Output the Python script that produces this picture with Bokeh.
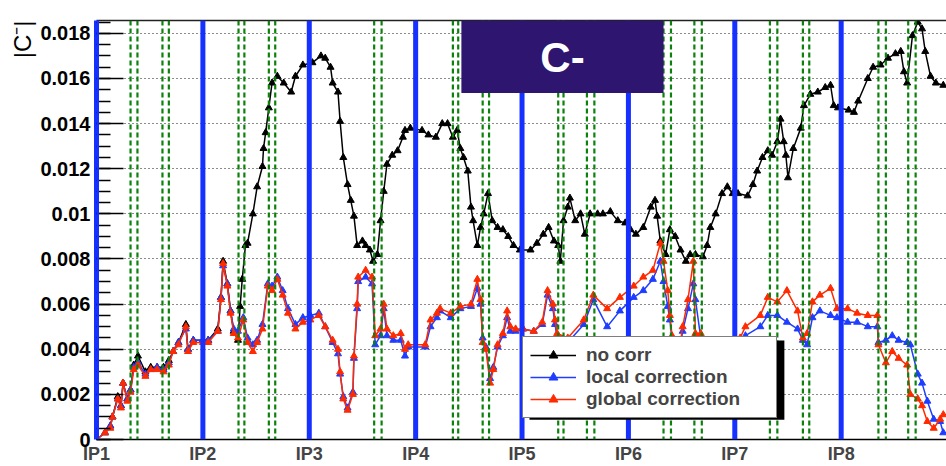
from bokeh.plotting import figure
from bokeh.models import (Span, FixedTicker, Legend, LegendItem, BoxAnnotation,
                          Label, Title, LinearAxis, Range1d)
from bokeh.embed import file_html
from bokeh.resources import INLINE

# ---------------- data ----------------
ip_pos = [0, 1, 2, 3, 4, 5, 6, 7]
ip_labels = ["IP1", "IP2", "IP3", "IP4", "IP5", "IP6", "IP7", "IP8"]

# dashed green markers (octant units)
green_pos = [0.32, 0.385, 0.62, 0.68,
             1.335, 1.39, 1.62, 1.68,
             2.61, 2.68,
             3.35, 3.40, 3.63, 3.69,
             4.34, 4.39, 4.61, 4.68,
             5.33, 5.40, 5.62, 5.69,
             6.33, 6.40, 6.64, 6.70,
             7.35, 7.42, 7.63, 7.70]

y_ticks = [0.0, 0.002, 0.004, 0.006, 0.008, 0.01, 0.012, 0.014, 0.016, 0.018]
y_tick_labels = ["0", "0.002", "0.004", "0.006", "0.008", "0.01", "0.012", "0.014", "0.016", "0.018"]

pos_corr = [0.00,0.08,0.13,0.15,0.20,0.23,0.25,0.29,0.32,0.35,
            0.39,0.46,0.51,0.57,0.63,0.68,0.72,0.77,0.84,0.86,
            0.91,1.00,1.05,1.14,1.17,1.19,1.23,1.26,1.29,1.33,
            1.38,1.42,1.47,1.51,1.56,1.61,1.65,1.70,1.75,1.80,
            1.87,1.94,2.01,2.09,2.15,2.22,2.27,2.29,2.32,2.36,
            2.41,2.42,2.45,2.46,2.53,2.59,2.62,2.67,2.70,2.73,
            2.79,2.86,2.90,2.93,3.09,3.14,3.20,3.23,3.33,3.42,
            3.52,3.58,3.61,3.63,3.66,3.70,3.73,3.77,3.82,3.86,
            3.89,3.94,4.01,4.11,4.19,4.24,4.29,4.31,4.33,4.43,
            4.58,4.67,4.80,4.92,5.05,5.14,5.23,5.30,5.33,5.37,
            5.39,5.41,5.45,5.51,5.56,5.61,5.63,5.68,5.80,5.95,
            6.05,6.10,6.24,6.31,6.40,6.49,6.59,6.64,6.68,6.73,
            6.80,6.90,6.96,7.06,7.15,7.25,7.34,7.35,7.42,7.48,
            7.54,7.62,7.65,7.72,7.76,7.81,7.87,7.93,7.96]

global_corr = [0.0000,0.0003,0.0005,0.0010,0.0018,0.0014,0.0025,0.0017,0.0021,0.0031,
               0.0033,0.0028,0.0031,0.0031,0.0030,0.0033,0.0039,0.0042,0.0050,0.0039,
               0.0043,0.0043,0.0043,0.0048,0.0062,0.0078,0.0068,0.0056,0.0047,0.0045,
               0.0053,0.0043,0.0039,0.0043,0.0049,0.0068,0.0066,0.0071,0.0064,0.0056,
               0.0049,0.0052,0.0053,0.0055,0.0050,0.0044,0.0040,0.0030,0.0018,0.0013,
               0.0020,0.0037,0.0060,0.0072,0.0075,0.0072,0.0046,0.0049,0.0060,0.0049,
               0.0046,0.0047,0.0040,0.0042,0.0042,0.0053,0.0056,0.0058,0.0056,0.0059,
               0.0060,0.0071,0.0062,0.0043,0.0040,0.0025,0.0031,0.0042,0.0047,0.0057,
               0.0050,0.0049,0.0049,0.0048,0.0052,0.0066,0.0060,0.0053,0.0047,0.0045,
               0.0053,0.0064,0.0058,0.0063,0.0068,0.0072,0.0075,0.0087,0.0079,0.0066,
               0.0055,0.0046,0.0030,0.0050,0.0062,0.0079,0.0047,0.0047,0.0040,0.0042,
               0.0045,0.0050,0.0055,0.0063,0.0061,0.0066,0.0057,0.0045,0.0047,0.0061,
               0.0064,0.0067,0.0058,0.0058,0.0056,0.0055,0.0055,0.0042,0.0034,0.0039,
               0.0036,0.0033,0.0020,0.0018,0.0015,0.0008,0.0005,0.0009,0.0011]

local_corr = [0.0000,0.0003,0.0006,0.0010,0.0018,0.0015,0.0025,0.0018,0.0022,0.0032,
              0.0034,0.0029,0.0031,0.0032,0.0031,0.0034,0.0039,0.0043,0.0049,0.0040,
              0.0044,0.0044,0.0044,0.0048,0.0063,0.0077,0.0069,0.0057,0.0049,0.0048,
              0.0054,0.0045,0.0042,0.0044,0.0051,0.0069,0.0068,0.0072,0.0066,0.0058,
              0.0051,0.0054,0.0055,0.0056,0.0050,0.0043,0.0038,0.0029,0.0019,0.0014,
              0.0021,0.0036,0.0058,0.0070,0.0072,0.0069,0.0042,0.0046,0.0058,0.0046,
              0.0044,0.0044,0.0037,0.0041,0.0041,0.0050,0.0054,0.0057,0.0054,0.0058,
              0.0059,0.0067,0.0060,0.0045,0.0041,0.0027,0.0032,0.0041,0.0046,0.0054,
              0.0048,0.0048,0.0049,0.0048,0.0051,0.0064,0.0058,0.0051,0.0045,0.0043,
              0.0051,0.0062,0.0050,0.0057,0.0063,0.0066,0.0071,0.0079,0.0070,0.0059,
              0.0053,0.0044,0.0030,0.0048,0.0058,0.0069,0.0062,0.0045,0.0039,0.0041,
              0.0043,0.0046,0.0050,0.0055,0.0055,0.0052,0.0049,0.0044,0.0042,0.0054,
              0.0057,0.0055,0.0054,0.0052,0.0052,0.0050,0.0050,0.0043,0.0044,0.0046,
              0.0044,0.0043,0.0042,0.0029,0.0025,0.0017,0.0009,0.0008,0.0003]

pos_nocorr = [0.00,0.08,0.13,0.15,0.20,0.23,0.25,0.29,0.32,0.35,
              0.39,0.46,0.51,0.57,0.63,0.68,0.72,0.77,0.84,0.86,
              0.91,1.00,1.05,1.14,1.17,1.19,1.23,1.26,1.29,1.33,
              1.35,1.37,1.40,1.42,1.47,1.51,1.56,1.57,1.59,1.62,
              1.65,1.70,1.76,1.83,1.87,1.94,2.03,2.11,2.15,2.20,
              2.22,2.27,2.29,2.32,2.36,2.39,2.42,2.45,2.50,2.53,
              2.57,2.60,2.64,2.67,2.70,2.73,2.78,2.83,2.88,2.90,
              2.95,3.06,3.12,3.19,3.25,3.30,3.35,3.39,3.42,3.45,
              3.49,3.52,3.54,3.58,3.61,3.64,3.68,3.72,3.77,3.82,
              3.87,3.92,3.98,4.08,4.14,4.20,4.25,4.30,4.34,4.36,
              4.39,4.43,4.45,4.50,4.55,4.59,4.64,4.71,4.76,4.83,
              4.90,4.97,5.02,5.07,5.14,5.21,5.25,5.27,5.30,5.35,
              5.39,5.44,5.49,5.54,5.58,5.63,5.70,5.74,5.77,5.82,
              5.88,5.93,5.98,6.03,6.12,6.17,6.21,6.26,6.31,6.35,
              6.40,6.43,6.46,6.48,6.50,6.55,6.62,6.65,6.71,6.78,
              6.85,6.90,6.93,6.97,7.07,7.12,7.16,7.25,7.30,7.37,
              7.44,7.51,7.56,7.59,7.62,7.67,7.72,7.76,7.79,7.84,
              7.89,7.96]

no_corr = [0.0000,0.0003,0.0006,0.0010,0.0019,0.0015,0.0025,0.0018,0.0022,0.0033,
           0.0037,0.0030,0.0032,0.0032,0.0032,0.0035,0.0039,0.0043,0.0051,0.0040,
           0.0044,0.0044,0.0044,0.0049,0.0063,0.0079,0.0069,0.0057,0.0048,0.0044,
           0.0059,0.0071,0.0086,0.0087,0.0100,0.0112,0.0121,0.0129,0.0136,0.0147,
           0.0158,0.0161,0.0158,0.0154,0.0161,0.0166,0.0167,0.0170,0.0169,0.0165,
           0.0158,0.0154,0.0141,0.0125,0.0113,0.0106,0.0099,0.0086,0.0088,0.0086,
           0.0084,0.0079,0.0082,0.0097,0.0110,0.0122,0.0126,0.0128,0.0134,0.0137,
           0.0138,0.0137,0.0135,0.0134,0.0140,0.0140,0.0134,0.0137,0.0129,0.0125,
           0.0119,0.0103,0.0097,0.0086,0.0094,0.0100,0.0109,0.0097,0.0094,0.0093,
           0.0090,0.0086,0.0084,0.0084,0.0087,0.0091,0.0094,0.0088,0.0086,0.0079,
           0.0097,0.0103,0.0107,0.0097,0.0100,0.0091,0.0100,0.0100,0.0100,0.0101,
           0.0097,0.0096,0.0093,0.0091,0.0094,0.0103,0.0106,0.0099,0.0088,0.0082,
           0.0093,0.0090,0.0084,0.0079,0.0082,0.0082,0.0081,0.0086,0.0094,0.0100,
           0.0109,0.0112,0.0109,0.0109,0.0108,0.0113,0.0119,0.0125,0.0128,0.0126,
           0.0132,0.0142,0.0132,0.0126,0.0116,0.0129,0.0138,0.0148,0.0153,0.0154,
           0.0156,0.0157,0.0148,0.0147,0.0146,0.0145,0.0150,0.0160,0.0165,0.0166,
           0.0169,0.0171,0.0172,0.0163,0.0158,0.0179,0.0185,0.0182,0.0172,0.0161,
           0.0158,0.0157]

# ---------------- style ----------------
FONT = "Liberation Sans"
IP_BLUE = "#1530ff"
GREEN = "#0b820b"
C_BLACK = "#000000"
C_BLUE = "#1f3dff"
C_RED = "#ff2a00"

p = figure(width=946, height=466, output_backend="svg", toolbar_location=None,
           x_range=Range1d(0, 7.99), y_range=Range1d(0, 0.01857),
           min_border_left=96, min_border_right=0, min_border_top=20,
           min_border_bottom=23, title=None)
p.outline_line_color = None
p.background_fill_color = "white"
p.border_fill_color = "white"

# y axis
yax = p.yaxis[0]
yax.ticker = FixedTicker(ticks=y_ticks,
                         minor_ticks=[i * 0.0005 for i in range(38)])
yax.major_label_overrides = {t: l for t, l in zip(y_ticks, y_tick_labels)}
yax.major_label_text_font = FONT
yax.major_label_text_font_style = "bold"
yax.major_label_text_font_size = "20px"
yax.major_label_text_color = "black"
yax.major_label_standoff = 6
yax.major_tick_in = 27
yax.major_tick_out = 0
yax.minor_tick_in = 14
yax.minor_tick_out = 0
yax.major_tick_line_width = 1.5
yax.minor_tick_line_width = 1.5
yax.major_tick_line_color = "black"
yax.minor_tick_line_color = "black"
yax.axis_line_color = IP_BLUE
yax.axis_line_width = 5

# x axis
xax = p.xaxis[0]
xax.ticker = FixedTicker(ticks=ip_pos)
xax.major_label_overrides = {t: l for t, l in zip(ip_pos, ip_labels)}
xax.major_label_text_font = FONT
xax.major_label_text_font_style = "bold"
xax.major_label_text_font_size = "18px"
xax.major_label_standoff = 4
xax.major_tick_in = 0
xax.major_tick_out = 0
xax.minor_tick_in = 0
xax.minor_tick_out = 0
xax.axis_line_color = "black"
xax.axis_line_width = 1.5

# top frame line
top = LinearAxis(ticker=FixedTicker(ticks=[]), major_tick_in=0, major_tick_out=0,
                 minor_tick_in=0, minor_tick_out=0,
                 major_label_text_font_size="0px", axis_line_width=1.5,
                 axis_line_color="#222222")
p.add_layout(top, "above")

# y title
ytitle = Title(text="|C\u207b|", align="right", text_font=FONT, text_color="black",
               text_font_size="24px", text_font_style="normal", standoff=4)
p.add_layout(ytitle, "left")

# grid
p.xgrid.visible = False
p.ygrid.ticker = FixedTicker(ticks=y_ticks)
p.ygrid.grid_line_color = "black"
p.ygrid.grid_line_dash = "1 3"
p.ygrid.grid_line_width = 1
p.ygrid.grid_line_alpha = 0.9

# data
l0 = p.line(pos_nocorr, no_corr, line_color=C_BLACK, line_width=1.5)
s0 = p.scatter(pos_nocorr, no_corr, marker="triangle", size=7,
               fill_color=C_BLACK, line_color=C_BLACK)
l1 = p.line(pos_corr, local_corr, line_color=C_BLUE, line_width=1.5)
s1 = p.scatter(pos_corr, local_corr, marker="triangle", size=7,
               fill_color=C_BLUE, line_color=C_BLUE)
l2 = p.line(pos_corr, global_corr, line_color=C_RED, line_width=1.5)
s2 = p.scatter(pos_corr, global_corr, marker="triangle", size=7,
               fill_color=C_RED, line_color=C_RED)

# vertical markers
for g in green_pos:
    p.add_layout(Span(location=g, dimension="height", line_color=GREEN,
                      line_width=2.2, line_dash="5 3"))
for ip in ip_pos:
    p.add_layout(Span(location=ip, dimension="height", line_color=IP_BLUE,
                      line_width=5))

# title box "C-"
p.add_layout(BoxAnnotation(left=3.43, right=5.33, bottom=0.01536,
                           fill_color="#2d1570", fill_alpha=1, line_color=None))
p.add_layout(Label(x=4.38, y=0.01694, text="C-", text_color="white",
                   text_font=FONT, text_font_size="42px", text_font_style="bold",
                   text_align="center", text_baseline="middle"))

# legend shadow
p.add_layout(BoxAnnotation(left=4.07, right=6.466, bottom=0.00088, top=0.00439,
                           fill_color="black", fill_alpha=1, line_color=None))

legend = Legend(items=[LegendItem(label="no corr", renderers=[l0, s0]),
                       LegendItem(label="local correction", renderers=[l1, s1]),
                       LegendItem(label="global correction", renderers=[l2, s2])],
                location=(426, 21))
legend.border_line_color = "black"
legend.border_line_width = 1.5
legend.background_fill_color = "white"
legend.background_fill_alpha = 1
legend.label_text_font = FONT
legend.label_text_font_style = "bold"
legend.label_text_font_size = "19px"
legend.glyph_width = 46
legend.glyph_height = 22
legend.label_height = 22
legend.label_width = 183
legend.label_standoff = 10
legend.padding = 7
legend.spacing = 0
legend.margin = 0
p.add_layout(legend, "center")

open("out.html", "w").write(file_html(p, INLINE))
